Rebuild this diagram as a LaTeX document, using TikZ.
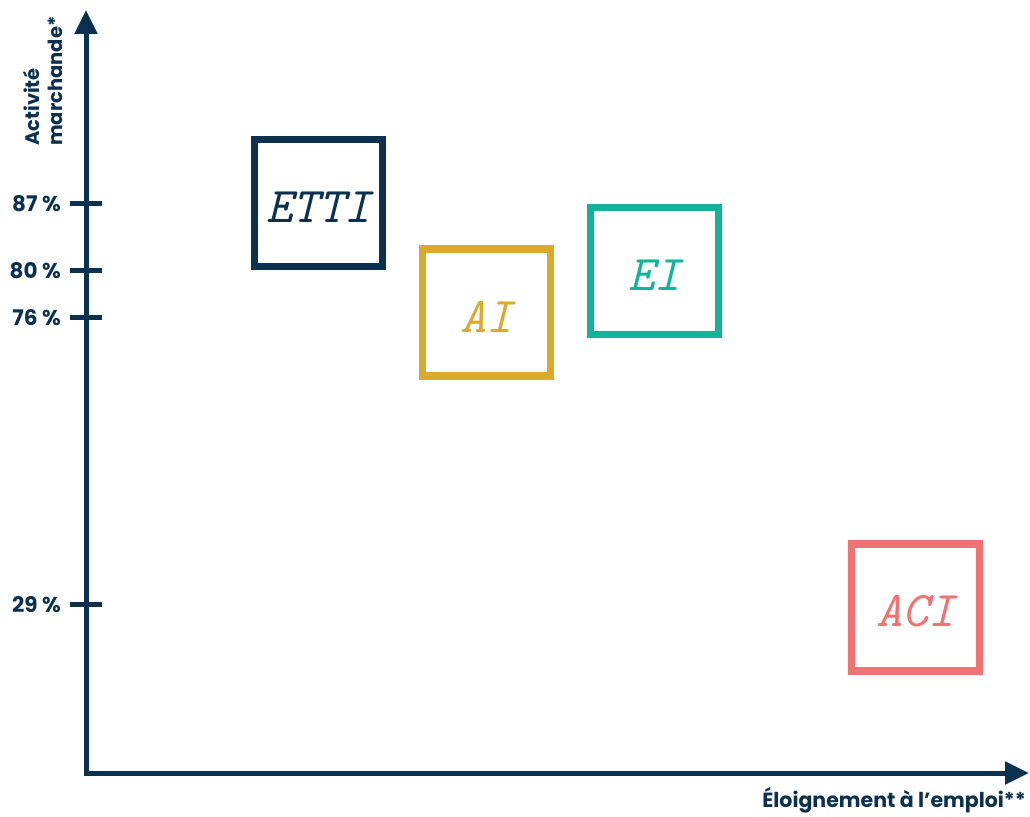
\documentclass[tikz,border=0pt]{standalone}
\usepackage{fontspec}
\setmainfont{Poppins}
\usetikzlibrary{arrows.meta}
\definecolor{navy}{HTML}{0B3050}
\definecolor{gold}{HTML}{DAAA2A}
\definecolor{teal}{HTML}{12B39B}
\definecolor{coral}{HTML}{F07272}
\tikzset{
  axis/.style={draw=navy, line width=5pt, -{Triangle[length=24pt,width=22pt]}},
  tickmark/.style={draw=navy, line width=5pt},
  ticklabel/.style={anchor=east, inner sep=0pt, text=navy, font=\fontsize{21.5}{23}\selectfont\bfseries},
  catbox/.style={draw=#1, line width=7.5pt, minimum width=128pt, minimum height=127pt, inner sep=0pt},
  cattext/.style={inner sep=0pt, text=#1, font=\fontsize{50}{54}\selectfont\ttfamily\itshape},
}
\begin{document}
\begin{tikzpicture}[x=1pt,y=-1pt]
\useasboundingbox (0,0) rectangle (1030,816);
\coordinate (O) at (86,773);
\coordinate (Ytop) at (86,10);
\coordinate (Xend) at (1029,773);
\draw[axis] (86,775.5) -- (Ytop);
\draw[axis] (83.5,773) -- (Xend);
\foreach \yy/\lab/\nm in {203/87/a,270/80/b,317/76/c,604/29/d}{
  \coordinate (t\nm l) at (70,\yy);
  \coordinate (t\nm r) at (102,\yy);
  \draw[tickmark] (t\nm l) -- (t\nm r);
  \node[ticklabel] (lab\nm) at (61,\yy+1) {\lab{} \%};
}
\node[inner sep=0pt, rotate=90, anchor=south west, align=left, text=navy,
  font=\fontsize{19.5}{23}\selectfont\bfseries] (ylab) at (63,146) {Activité\\marchande*};
\node[inner sep=0pt, anchor=base east, text=navy, font=\fontsize{20.5}{22}\selectfont\bfseries] (xlab) at (1026,807) {Éloignement à l’emploi**};
\node[catbox=navy] (etti) at (318.5,203) {};
\node[catbox=gold] (ai) at (486.5,312.5) {};
\node[catbox=teal] (ei) at (654.5,271) {};
\node[catbox=coral] (aci) at (915.5,607.5) {};
\node[cattext=navy] (ettit) at ([yshift=-4pt]etti.center) {ETTI};
\node[cattext=gold] (ait) at ([yshift=-4pt]ai.center) {AI};
\node[cattext=teal] (eit) at ([yshift=-4pt]ei.center) {EI};
\node[cattext=coral] (acit) at ([yshift=-4pt]aci.center) {ACI};
\end{tikzpicture}
\end{document}
